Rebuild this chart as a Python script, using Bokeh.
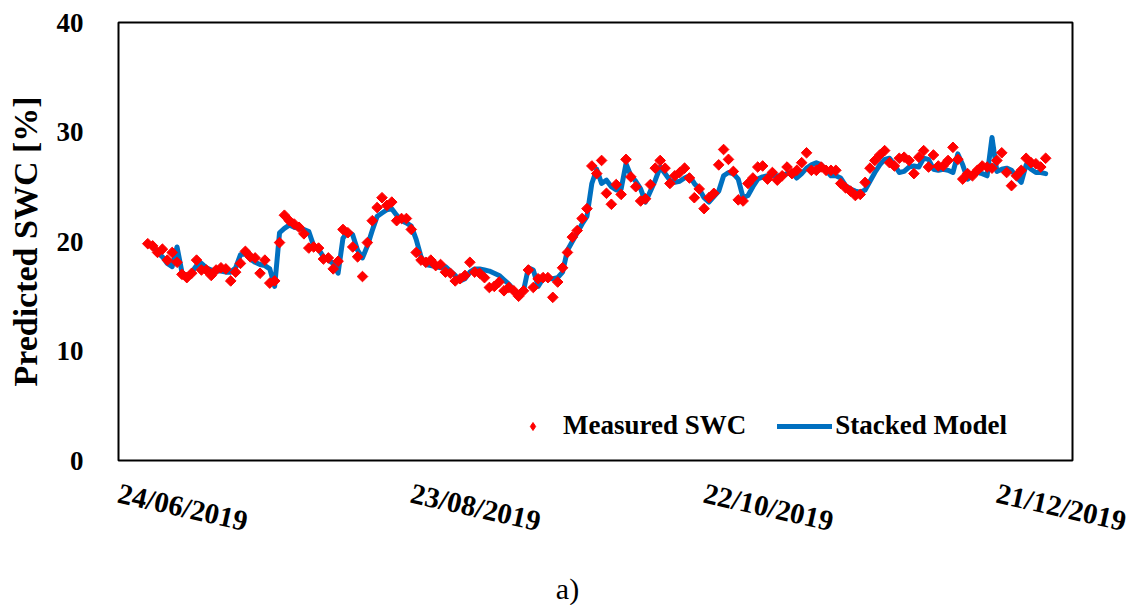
import pandas as pd
from bokeh.plotting import figure
from bokeh.layouts import column
from bokeh.core.properties import value
from bokeh.models import (FixedTicker, DatetimeTickFormatter, Legend, LegendItem,
                          Range1d, ColumnDataSource)
from bokeh.embed import file_html
from bokeh.resources import INLINE

# ---------------- data ----------------
start_date = "2019-06-30"
measured_swc = [
    19.8, 19.6, 19.0, 19.3, 18.3, 19.0, 18.1, 17.0, 16.7, 17.1,
    18.3, 17.4, 17.4, 16.9, 17.4, 17.6, 17.5, 16.4, 17.2, 18.0,
    19.1, 18.6, 18.5, 17.1, 18.3, 16.2, 16.4, 19.9, 22.4, 21.9,
    21.6, 21.3, 20.7, 19.4, 19.5, 19.4, 18.4, 18.5, 17.5, 18.2,
    21.1, 20.8, 19.5, 18.6, 16.8, 19.9, 21.9, 23.1, 24.0, 23.3,
    23.6, 21.9, 22.1, 22.1, 21.1, 19.0, 18.3, 18.1, 18.3, 17.8,
    17.9, 17.2, 17.1, 16.4, 16.6, 16.9, 18.1, 17.2, 17.1, 16.7,
    15.8, 15.9, 16.3, 15.5, 15.8, 15.5, 15.0, 15.5, 17.4, 15.8,
    16.6, 16.7, 16.7, 14.9, 16.3, 17.6, 19.0, 20.4, 21.0, 22.1,
    23.0, 26.9, 26.2, 27.4, 24.4, 23.4, 25.2, 24.3, 27.5, 25.9,
    25.0, 23.7, 23.9, 25.2, 26.7, 27.4, 26.7, 25.3, 26.0, 26.3,
    26.7, 25.8, 24.0, 24.8, 23.0, 24.0, 24.4, 27.0, 28.4, 27.5,
    26.4, 23.8, 23.7, 25.3, 25.8, 26.8, 26.9, 25.7, 26.3, 25.6,
    26.0, 26.8, 26.2, 26.5, 27.2, 28.1, 26.5, 26.5, 26.8, 26.5,
    26.5, 26.5, 25.3, 24.9, 24.6, 24.2, 24.3, 25.4, 26.7, 27.4,
    27.9, 28.3, 27.2, 26.9, 27.6, 27.7, 27.4, 26.2, 27.7, 28.3,
    26.8, 27.9, 26.9, 26.9, 27.4, 28.6, 27.5, 25.7, 26.2, 26.0,
    26.5, 26.9, 26.8, 26.7, 27.4, 28.1, 26.3, 25.1, 26.0, 26.5,
    27.6, 27.2, 27.1, 26.8, 27.6,
]
stacked_model = [
    19.8, 19.6, 19.0, 18.6, 18.0, 17.7, 19.5, 17.2, 16.8, 17.2,
    17.8, 18.0, 17.6, 17.4, 17.3, 17.3, 17.2, 17.2, 17.6, 18.8,
    18.9, 18.4, 18.1, 17.9, 17.8, 17.5, 15.9, 20.8, 21.2, 21.5,
    21.3, 21.2, 21.1, 20.9, 19.6, 19.3, 18.6, 18.3, 18.0, 17.1,
    20.3, 20.9, 20.6, 19.2, 18.5, 19.6, 21.0, 22.3, 22.6, 22.9,
    23.0, 22.4, 21.9, 21.7, 21.4, 20.2, 18.6, 17.9, 17.8, 17.7,
    17.6, 17.7, 17.3, 16.9, 16.4, 16.6, 17.2, 17.5, 17.5, 17.4,
    17.3, 17.1, 16.9, 16.5, 16.1, 15.6, 15.0, 15.5, 17.6, 17.4,
    15.9, 16.6, 16.6, 16.6, 16.7, 17.2, 19.2, 20.0, 20.8, 21.6,
    22.3, 25.3, 26.6, 25.3, 25.6, 25.0, 24.7, 24.8, 27.1, 26.0,
    25.5, 24.8, 23.6, 24.6, 25.6, 26.8, 26.2, 25.6, 25.4, 25.5,
    25.8, 26.0, 25.3, 24.8, 24.0, 23.6, 24.1, 24.6, 26.0, 26.3,
    26.2, 25.7, 24.0, 24.2, 25.0, 25.7, 25.9, 26.0, 26.0, 26.0,
    26.0, 26.2, 26.3, 25.8, 26.2, 26.7, 27.0, 27.2, 27.0, 26.5,
    26.0, 26.0, 25.8, 25.1, 24.8, 24.6, 24.5, 24.7, 25.5, 26.3,
    27.0, 27.5, 27.6, 27.0, 26.3, 26.4, 26.8, 26.9, 26.8, 27.6,
    27.5, 26.6, 26.5, 26.6, 26.5, 26.3, 28.0, 27.0, 25.7, 26.0,
    26.3, 26.2, 26.0, 29.5, 26.4, 26.6, 26.7, 26.5, 25.9, 25.4,
    27.0, 26.6, 26.3, 26.3, 26.2,
]
tick_dates = ["2019-06-24", "2019-08-23", "2019-10-22", "2019-12-21"]
y_ticks = [0, 10, 20, 30, 40]
x_start = "2019-06-24"
x_end = "2020-01-05 12:00"
caption_text = ["a)"]

dates = pd.date_range(start_date, periods=len(measured_swc), freq="D")
src = ColumnDataSource(dict(date=dates, measured=measured_swc,
                            model=stacked_model[:len(measured_swc)]))

FONT = "Liberation Serif"

p = figure(width=1137, height=570, output_backend="svg", toolbar_location=None,
           x_axis_type="datetime",
           x_range=Range1d(pd.Timestamp(x_start), pd.Timestamp(x_end)),
           y_range=Range1d(0, 40),
           min_border_left=118, min_border_right=65,
           min_border_top=22, min_border_bottom=110)

p.background_fill_color = "white"
p.border_fill_color = "white"
p.outline_line_color = "black"
p.outline_line_width = 2
p.xgrid.visible = False
p.ygrid.visible = False

ln = p.line("date", "model", source=src, line_color="#0070C0", line_width=5,
            line_join="round", line_cap="round")
sc = p.scatter("date", "measured", source=src, marker="square", size=7.5,
               angle=0.785398, fill_color="#FF0000", line_color="#FF0000")
# legend-only proxy (kept below the visible y range) for the diamond symbol
proxy = p.scatter(x=[dates[0]], y=[-10], marker="diamond", size=12,
                  fill_color="#FF0000", line_color="#FF0000")

# axes
xa = p.xaxis[0]
xa.ticker = FixedTicker(ticks=[pd.Timestamp(d).value / 1e6 for d in tick_dates])
fmt = "%d/%m/%Y"
xa.formatter = DatetimeTickFormatter(days=fmt, months=fmt, years=fmt, hours=fmt,
                                     minutes=fmt, seconds=fmt, milliseconds=fmt,
                                     microseconds=fmt, hourmin=fmt, minsec=fmt)
xa.major_label_orientation = -0.22
xa.major_label_text_font = FONT
xa.major_label_text_font_style = "bold"
xa.major_label_text_font_size = "29px"
xa.major_label_text_color = "black"
xa.major_label_standoff = 26
xa.axis_line_color = None
xa.major_tick_line_color = None
xa.minor_tick_line_color = None

ya = p.yaxis[0]
ya.ticker = FixedTicker(ticks=y_ticks)
ya.major_label_text_font = FONT
ya.major_label_text_font_style = "bold"
ya.major_label_text_font_size = "27px"
ya.major_label_text_color = "black"
ya.major_label_standoff = 29
ya.axis_line_color = None
ya.major_tick_line_color = None
ya.minor_tick_line_color = None
ya.axis_label = "Predicted SWC [%]"
ya.axis_label_text_font = FONT
ya.axis_label_text_font_style = "bold"
ya.axis_label_text_font_size = "34px"
ya.axis_label_text_color = "black"
ya.axis_label_standoff = 10

legend = Legend(items=[LegendItem(label="Measured SWC", renderers=[proxy]),
                       LegendItem(label="Stacked Model", renderers=[ln])],
                orientation="horizontal", location=(387, 19),
                glyph_width=55, glyph_height=20, label_standoff=3, spacing=31,
                padding=0, margin=0, border_line_color=None,
                background_fill_alpha=0,
                label_text_font=FONT, label_text_font_style="bold",
                label_text_font_size="27px", label_text_color="black")
p.add_layout(legend)

# caption strip below the chart (its frame lines up with the chart's frame)
cap = figure(width=1137, height=35, output_backend="svg", toolbar_location=None,
             x_range=Range1d(118, 1072), y_range=Range1d(0, 35),
             x_axis_location=None, y_axis_location=None,
             min_border_left=118, min_border_right=65,
             min_border_top=0, min_border_bottom=0)
cap.outline_line_color = None
cap.xgrid.visible = False
cap.ygrid.visible = False
cap.text(x=[567], y=[17], text=caption_text, text_align="center",
         text_baseline="middle", text_font=value(FONT),
         text_font_size="30px", text_color="black")

layout = column(p, cap, spacing=0)
open("out.html", "w").write(file_html(layout, INLINE))
